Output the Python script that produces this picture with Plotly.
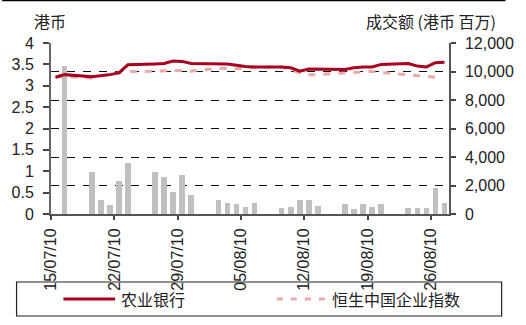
import plotly.graph_objects as go

# ---- data ----
dates = ["2010-07-15", "2010-07-16", "2010-07-19", "2010-07-20", "2010-07-21", "2010-07-22", "2010-07-23",
         "2010-07-26", "2010-07-27", "2010-07-28", "2010-07-29", "2010-07-30",
         "2010-08-02", "2010-08-03", "2010-08-04", "2010-08-05", "2010-08-06",
         "2010-08-09", "2010-08-10", "2010-08-11", "2010-08-12", "2010-08-13",
         "2010-08-16", "2010-08-17", "2010-08-18", "2010-08-19", "2010-08-20",
         "2010-08-23", "2010-08-24", "2010-08-25", "2010-08-26", "2010-08-27"]
abc_price = [3.20, 3.26, 3.21, 3.23, 3.26, 3.30, 3.49,
             3.51, 3.52, 3.58, 3.57, 3.52,
             3.52, 3.51, 3.48, 3.45, 3.44,
             3.44, 3.42, 3.34, 3.39, 3.39,
             3.38, 3.42, 3.44, 3.44, 3.50,
             3.52, 3.46, 3.44, 3.54, 3.55]
hscei_dates = dates[:-1]
hscei_rebased = [3.20, 3.22, 3.18, 3.23, 3.27, 3.30, 3.33,
                 3.34, 3.35, 3.36, 3.35, 3.34,
                 3.41, 3.41, 3.40, 3.42, 3.43,
                 3.44, 3.38, 3.30, 3.26, 3.26,
                 3.30, 3.30, 3.32, 3.34, 3.31,
                 3.25, 3.24, 3.22, 3.20]
vol_dates = dates[1:]
volume = [10400, 2950, 950, 650, 2350, 3600,
          2950, 2630, 1510, 2770, 1300,
          950, 740, 670, 460, 740,
          390, 460, 950, 950, 580,
          670, 320, 670, 460, 670,
          390, 390, 390, 1860, 740]
tick_dates = ["2010-07-15", "2010-07-22", "2010-07-29", "2010-08-05", "2010-08-12", "2010-08-19", "2010-08-26"]
left_ticks = [0, 0.5, 1, 1.5, 2, 2.5, 3, 3.5, 4]
right_ticks = [0, 2000, 4000, 6000, 8000, 10000, 12000]
name_abc = "农业银行"
name_hscei = "恒生中国企业指数"
title_left = "港币"
title_right = "成交额 (港币 百万)"

DAY = 86400000
FONT = "Liberation Sans Narrow, Arial Narrow, Liberation Sans, Noto Sans CJK SC, sans-serif"
CJK = "Noto Sans CJK SC, Liberation Sans, sans-serif"
RED = "#a8001e"
PINK = "#eaaaaa"

L, R, T, B = 51, 467, 43, 214
W, H = R - L, B - T
def fx(px):
    return (px - L) / W
def fy(py):
    return (B - py) / H

fig = go.Figure()
fig.add_trace(go.Bar(x=vol_dates, y=volume, yaxis="y", marker_color="#c0c0c0",
                     marker_line_width=0, width=0.62 * DAY,
                     xperiod=DAY, xperiodalignment="middle", showlegend=False))
fig.add_trace(go.Scatter(x=hscei_dates, y=hscei_rebased, yaxis="y2", mode="lines",
                         line=dict(color=PINK, width=3, dash="7px,8px"),
                         xperiod=DAY, xperiodalignment="middle", showlegend=False))
fig.add_trace(go.Scatter(x=dates, y=abc_price, yaxis="y2", mode="lines",
                         line=dict(color=RED, width=3),
                         xperiod=DAY, xperiodalignment="middle", showlegend=False))

fig.update_layout(
    width=526, height=325,
    margin=dict(l=L, r=526 - R, t=T, b=325 - B),
    paper_bgcolor="white", plot_bgcolor="white",
    font=dict(family=FONT, size=16, color="#222"),
    bargap=0,
    xaxis=dict(type="date", range=["2010-07-15", "2010-08-28"],
               tickvals=tick_dates, tickformat="%d/%m/%y", tickangle=-90,
               ticks="outside", ticklen=4, tickwidth=1.5, tickcolor="#444",
               showline=True, linecolor="#555", linewidth=2,
               showgrid=False, zeroline=False, ticklabelstandoff=2),
    yaxis=dict(side="right", range=[0, 12000], tickvals=right_ticks, tickformat=",d",
               ticks="outside", ticklen=5, tickcolor="#444", tickwidth=1.5,
               showline=True, linecolor="#555", linewidth=1.5,
               showgrid=True, gridcolor="#111", gridwidth=1, griddash="8px,8px",
               zeroline=False, ticklabelstandoff=6),
    yaxis2=dict(side="left", overlaying="y", range=[0, 4], tickvals=left_ticks,
                ticks="outside", ticklen=6, tickcolor="#444", tickwidth=1.5,
                showline=True, linecolor="#666", linewidth=2,
                showgrid=False, zeroline=False, ticklabelstandoff=6),
    shapes=[
        dict(type="line", xref="paper", yref="paper", x0=fx(0), x1=fx(526), y0=fy(0.5), y1=fy(0.5),
             line=dict(color="black", width=1.5)),
        dict(type="rect", xref="paper", yref="paper", x0=fx(15), x1=fx(522), y0=fy(316), y1=fy(282),
             line=dict(color="#222", width=1.2)),
        dict(type="line", xref="paper", yref="paper", x0=fx(64), x1=fx(118), y0=fy(299), y1=fy(299),
             line=dict(color=RED, width=3)),
        dict(type="line", xref="paper", yref="paper", x0=fx(287), x1=fx(340), y0=fy(299), y1=fy(299),
             line=dict(color=PINK, width=3, dash="6px,8px")),
    ],
    annotations=[
        dict(text=title_left, xref="paper", yref="paper", x=fx(31), y=fy(21), xanchor="left",
             yanchor="middle", showarrow=False, font=dict(family=CJK, size=16, color="#222")),
        dict(text=title_right, xref="paper", yref="paper", x=fx(518), y=fy(21), xanchor="right",
             yanchor="middle", showarrow=False, font=dict(family=CJK, size=16, color="#222")),
        dict(text=name_abc, xref="paper", yref="paper", x=fx(122), y=fy(299), xanchor="left",
             yanchor="middle", showarrow=False, font=dict(family=CJK, size=16, color="#222")),
        dict(text=name_hscei, xref="paper", yref="paper", x=fx(343), y=fy(299), xanchor="left",
             yanchor="middle", showarrow=False, font=dict(family=CJK, size=16, color="#222")),
    ],
)

fig.write_html("out.html")
